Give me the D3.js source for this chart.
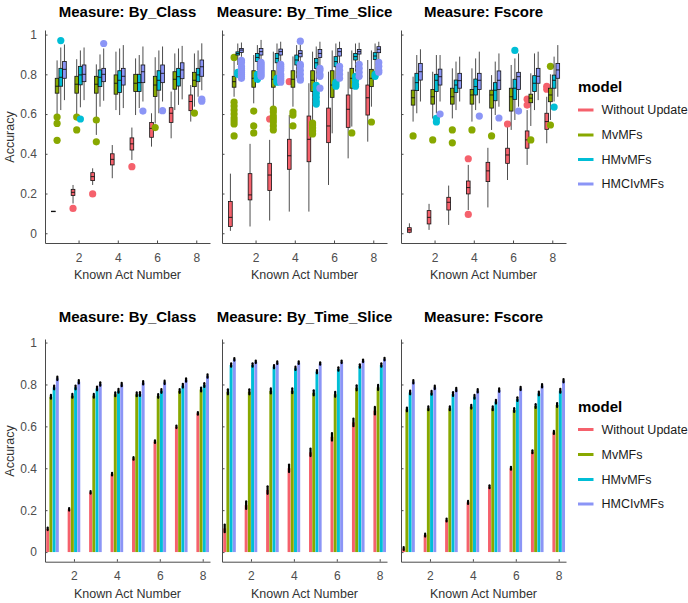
<!DOCTYPE html>
<html>
<head>
<meta charset="utf-8">
<script src="https://cdn.jsdelivr.net/npm/d3@7"></script>
<style>
  body { margin: 0; background: #fff; }
  text { font-family: "Liberation Sans", Arial, sans-serif; }
</style>
</head>
<body>
<div id="chart"></div>
<script>
const models = ['Without Update', 'MvMFs', 'HMvMFs', 'HMCIvMFs'];
const colors = ['#F5616C', '#88A800', '#00BED6', '#8B95F6'];
const measures = ['By_Class', 'By_Time_Slice', 'Fscore'];
const acts = [1, 2, 3, 4, 5, 6, 7, 8];
const xTicks = [2, 4, 6, 8];
const yTicks = [0, 0.2, 0.4, 0.6, 0.8, 1];

// box stats per act: [lower whisker, q1, median, q3, upper whisker]
const boxClassWithout = [[0.108,0.109,0.11,0.111,0.112],[0.15,0.19,0.206,0.221,0.243],[0.243,0.265,0.285,0.305,0.327],[0.277,0.344,0.372,0.40,0.444],[0.369,0.419,0.45,0.48,0.532],[0.436,0.483,0.528,0.558,0.604],[0.478,0.558,0.604,0.632,0.713],[0.562,0.617,0.663,0.696,0.746]];
const boxClassMvMFs = [[0.60,0.705,0.74,0.78,0.87],[0.60,0.705,0.75,0.79,0.876],[0.495,0.705,0.75,0.79,0.85],[0.62,0.70,0.755,0.797,0.914],[0.595,0.713,0.755,0.80,0.88],[0.553,0.688,0.746,0.79,0.886],[0.62,0.725,0.775,0.813,0.905],[0.637,0.738,0.77,0.81,0.905]];
const boxClassHMvMFs = [[0.62,0.74,0.785,0.83,0.935],[0.634,0.747,0.797,0.84,0.92],[0.637,0.738,0.785,0.822,0.90],[0.595,0.708,0.77,0.818,0.93],[0.63,0.713,0.758,0.80,0.897],[0.604,0.72,0.77,0.818,0.92],[0.646,0.741,0.788,0.83,0.93],[0.687,0.763,0.797,0.83,0.92]];
const boxClassHMCIvMFs = [[0.67,0.78,0.825,0.864,0.95],[0.67,0.763,0.80,0.847,0.935],[0.667,0.763,0.80,0.83,0.93],[0.63,0.746,0.79,0.83,0.947],[0.663,0.758,0.813,0.847,0.94],[0.663,0.758,0.805,0.847,0.94],[0.674,0.778,0.822,0.858,0.943],[0.72,0.79,0.838,0.872,0.956]];

const boxTimeWithout = [[0.012,0.034,0.08,0.16,0.30],[0.034,0.168,0.193,0.30,0.45],[0.064,0.215,0.293,0.352,0.47],[0.109,0.322,0.39,0.473,0.595],[0.109,0.36,0.473,0.59,0.755],[0.243,0.456,0.54,0.63,0.813],[0.377,0.533,0.624,0.696,0.813],[0.461,0.595,0.682,0.746,0.872]];
const boxTimeMvMFs = [[0.687,0.735,0.763,0.79,0.87],[0.654,0.735,0.78,0.818,0.897],[0.57,0.735,0.775,0.818,0.914],[0.637,0.735,0.775,0.818,0.89],[0.57,0.713,0.77,0.818,0.914],[0.503,0.684,0.746,0.818,0.92],[0.537,0.73,0.78,0.83,0.92],[0.637,0.738,0.78,0.825,0.92]];
const boxTimeHMvMFs = [[0.847,0.897,0.905,0.913,0.955],[0.82,0.864,0.885,0.905,0.947],[0.788,0.858,0.88,0.905,0.955],[0.78,0.847,0.872,0.897,0.947],[0.763,0.83,0.858,0.88,0.94],[0.77,0.838,0.864,0.889,0.955],[0.813,0.872,0.889,0.905,0.955],[0.813,0.875,0.892,0.909,0.955]];
const boxTimeHMCIvMFs = [[0.888,0.91,0.922,0.93,0.96],[0.864,0.897,0.914,0.93,0.973],[0.855,0.897,0.914,0.927,0.964],[0.855,0.888,0.905,0.919,0.95],[0.838,0.885,0.905,0.925,0.964],[0.847,0.892,0.914,0.93,0.964],[0.864,0.902,0.914,0.925,0.959],[0.872,0.909,0.926,0.939,0.964]];

const boxFscoreWithout = [[0.0,0.005,0.017,0.028,0.05],[0.017,0.047,0.08,0.114,0.148],[0.042,0.117,0.156,0.181,0.24],[0.117,0.198,0.23,0.263,0.344],[0.13,0.26,0.314,0.357,0.43],[0.268,0.352,0.394,0.428,0.537],[0.344,0.428,0.47,0.515,0.62],[0.453,0.523,0.562,0.604,0.687]];
const boxFscoreMvMFs = [[0.562,0.645,0.682,0.72,0.788],[0.578,0.65,0.687,0.724,0.813],[0.578,0.65,0.687,0.73,0.83],[0.562,0.65,0.696,0.724,0.83],[0.52,0.63,0.696,0.72,0.796],[0.52,0.615,0.687,0.73,0.847],[0.54,0.657,0.68,0.70,0.805],[0.57,0.662,0.696,0.73,0.80]];
const boxFscoreHMvMFs = [[0.604,0.718,0.758,0.805,0.897],[0.604,0.713,0.77,0.80,0.897],[0.62,0.708,0.746,0.771,0.864],[0.62,0.696,0.738,0.776,0.88],[0.595,0.667,0.72,0.758,0.864],[0.57,0.674,0.73,0.775,0.88],[0.62,0.713,0.755,0.793,0.905],[0.663,0.73,0.77,0.796,0.889]];
const boxFscoreHMCIvMFs = [[0.663,0.771,0.813,0.855,0.926],[0.663,0.746,0.788,0.826,0.897],[0.663,0.73,0.768,0.805,0.889],[0.654,0.724,0.77,0.805,0.914],[0.637,0.724,0.77,0.817,0.905],[0.637,0.724,0.788,0.81,0.905],[0.67,0.755,0.79,0.83,0.914],[0.687,0.78,0.822,0.855,0.947]];

// outliers: [act, value]
const outClassWithout = [[2,0.125],[3,0.198],[5,0.335]];
const outClassMvMFs = [[1,0.585],[1,0.553],[1,0.468],[2,0.585],[2,0.52],[3,0.57],[3,0.46],[6,0.532],[8,0.605]];
const outClassHMvMFs = [[1,0.97],[2,0.575]];
const outClassHMCIvMFs = [[3,0.955],[5,0.615],[6,0.617],[8,0.675],[8,0.665]];

const outTimeWithout = [[3,0.575],[4,0.763]];
const outTimeMvMFs = [[1,0.885],[1,0.66],[1,0.64],[1,0.62],[1,0.60],[1,0.58],[1,0.565],[1,0.55],[1,0.49],[2,0.615],[2,0.54],[2,0.505],[3,0.625],[3,0.61],[3,0.59],[3,0.575],[3,0.56],[3,0.54],[3,0.52],[4,0.61],[4,0.595],[4,0.54],[5,0.555],[5,0.545],[5,0.53],[5,0.515],[5,0.50],[7,0.505],[8,0.56]];
const outTimeHMvMFs = [[1,0.81],[1,0.80],[2,0.80],[2,0.79],[2,0.78],[2,0.775],[3,0.78],[3,0.77],[3,0.76],[5,0.745],[5,0.725],[5,0.705],[5,0.685],[5,0.665],[5,0.65],[6,0.76],[6,0.75],[6,0.74],[7,0.79],[7,0.77],[7,0.75],[7,0.74],[8,0.80],[8,0.79]];
const outTimeHMCIvMFs = [[1,0.87],[1,0.86],[1,0.84],[1,0.83],[1,0.82],[1,0.81],[1,0.80],[1,0.79],[1,0.78],[2,0.86],[2,0.85],[2,0.84],[2,0.83],[2,0.82],[2,0.81],[2,0.80],[2,0.79],[3,0.85],[3,0.84],[3,0.83],[3,0.82],[3,0.80],[3,0.79],[3,0.78],[3,0.77],[3,0.76],[4,0.967],[4,0.85],[4,0.84],[4,0.82],[4,0.80],[4,0.78],[4,0.77],[5,0.83],[5,0.82],[5,0.80],[5,0.79],[5,0.73],[6,0.84],[6,0.82],[6,0.80],[6,0.78],[7,0.85],[7,0.83],[7,0.81],[7,0.79],[8,0.86],[8,0.84],[8,0.82],[8,0.81]];

const outFscoreWithout = [[4,0.375],[4,0.095],[6,0.55],[7,0.675],[7,0.645],[8,0.74],[8,0.725]];
const outFscoreMvMFs = [[1,0.49],[2,0.47],[3,0.52],[3,0.455],[4,0.52],[5,0.49],[7,0.47],[8,0.84],[8,0.545]];
const outFscoreHMvMFs = [[2,0.578],[2,0.56],[6,0.92],[8,0.635]];
const outFscoreHMCIvMFs = [[2,0.60],[4,0.59],[5,0.58],[6,0.615]];

// mean accuracy per act (bottom row)
const meanClassWithout = [0.111,0.204,0.285,0.372,0.447,0.527,0.598,0.662];
const meanClassMvMFs = [0.741,0.746,0.746,0.753,0.753,0.745,0.769,0.776];
const meanClassHMvMFs = [0.786,0.786,0.781,0.77,0.754,0.769,0.794,0.797];
const meanClassHMCIvMFs = [0.829,0.813,0.802,0.80,0.808,0.81,0.821,0.84];
const meanTimeWithout = [0.113,0.224,0.296,0.40,0.476,0.55,0.619,0.675];
const meanTimeMvMFs = [0.765,0.765,0.769,0.77,0.76,0.753,0.784,0.786];
const meanTimeHMvMFs = [0.893,0.893,0.885,0.877,0.861,0.874,0.888,0.893];
const meanTimeHMCIvMFs = [0.92,0.908,0.904,0.904,0.90,0.908,0.913,0.921];
const meanFscoreWithout = [0.017,0.081,0.153,0.237,0.312,0.40,0.479,0.571];
const meanFscoreMvMFs = [0.681,0.686,0.686,0.694,0.686,0.678,0.697,0.702];
const meanFscoreHMvMFs = [0.762,0.76,0.754,0.741,0.718,0.73,0.757,0.77];
const meanFscoreHMCIvMFs = [0.813,0.786,0.776,0.77,0.773,0.781,0.794,0.818];

// half width of error bars, per model
const errClass = [0.006, 0.009, 0.009, 0.008];
const errTime = [0.018, 0.012, 0.008, 0.006];
const errFscore = [0.007, 0.009, 0.009, 0.008];

const boxes = [
  [boxClassWithout, boxClassMvMFs, boxClassHMvMFs, boxClassHMCIvMFs],
  [boxTimeWithout, boxTimeMvMFs, boxTimeHMvMFs, boxTimeHMCIvMFs],
  [boxFscoreWithout, boxFscoreMvMFs, boxFscoreHMvMFs, boxFscoreHMCIvMFs]
];
const outliers = [
  [outClassWithout, outClassMvMFs, outClassHMvMFs, outClassHMCIvMFs],
  [outTimeWithout, outTimeMvMFs, outTimeHMvMFs, outTimeHMCIvMFs],
  [outFscoreWithout, outFscoreMvMFs, outFscoreHMvMFs, outFscoreHMCIvMFs]
];
const means = [
  [meanClassWithout, meanClassMvMFs, meanClassHMvMFs, meanClassHMCIvMFs],
  [meanTimeWithout, meanTimeMvMFs, meanTimeHMvMFs, meanTimeHMCIvMFs],
  [meanFscoreWithout, meanFscoreMvMFs, meanFscoreHMvMFs, meanFscoreHMCIvMFs]
];
const errs = [errClass, errTime, errFscore];

const width = 688;
const height = 603;
const panelLeft = [45, 222, 401];
const panelW = 165;
const AXIS = '#4a4a4a';

const svg = d3.select('#chart').append('svg')
  .attr('width', width)
  .attr('height', height);

function drawAxes(g, x, y, row, p) {
  const bottom = y.range()[0];
  g.append('g')
    .attr('transform', `translate(${x.range()[0]},0)`)
    .call(d3.axisLeft(y).tickValues(yTicks).tickSize(-2.5).tickSizeOuter(0)
      .tickPadding(p == 0 ? 8 : 0).tickFormat(p == 0 ? d3.format('') : ''))
    .call(a => a.selectAll('path,line').attr('stroke', AXIS))
    .call(a => a.selectAll('text').attr('font-size', 12).attr('fill', '#4d4d4d')
      .attr('font-family', '"Liberation Sans", Arial, sans-serif'));

  g.append('g')
    .attr('transform', `translate(0,${bottom})`)
    .call(d3.axisBottom(x).tickValues(xTicks).tickSize(-2.5).tickSizeOuter(0).tickPadding(10))
    .call(a => a.selectAll('path,line').attr('stroke', AXIS))
    .call(a => a.selectAll('text').attr('font-size', 12).attr('fill', '#4d4d4d')
      .attr('font-family', '"Liberation Sans", Arial, sans-serif'));

  const cx = (x.range()[0] + x.range()[1]) / 2;
  g.append('text')
    .attr('x', cx)
    .attr('y', row.titleY)
    .attr('text-anchor', 'middle')
    .attr('font-size', 15)
    .attr('font-weight', 'bold')
    .attr('fill', '#000')
    .text('Measure: ' + measures[p]);

  g.append('text')
    .attr('x', cx)
    .attr('y', row.xTitleY)
    .attr('text-anchor', 'middle')
    .attr('font-size', 12.5)
    .attr('fill', '#333')
    .text('Known Act Number');
}

function drawBoxPanel(p) {
  const row = { titleY: 16.5, xTitleY: 278.5 };
  const g = svg.append('g');
  const x = d3.scaleLinear().domain([0.29, 8.7]).range([panelLeft[p], panelLeft[p] + panelW]);
  const y = d3.scaleLinear().domain([-0.049, 1.023]).range([243, 30]);
  drawAxes(g, x, y, row, p);

  const dodge = 0.75 / models.length;
  const bw = x(dodge) - x(0);

  models.forEach((m, k) => {
    const off = (k - (models.length - 1) / 2) * dodge;
    const stats = boxes[p][k];
    const mg = g.append('g').attr('class', 'model-' + k);

    mg.selectAll('.whisker')
      .data(stats)
      .enter()
      .append('path')
      .attr('class', 'whisker')
      .attr('d', (d, i) => {
        const cx = x(acts[i] + off);
        return `M${cx},${y(d[0])}V${y(d[1])}M${cx},${y(d[3])}V${y(d[4])}`;
      })
      .attr('stroke', '#3a3a3a')
      .attr('stroke-width', 0.9)
      .attr('fill', 'none');

    mg.selectAll('.box')
      .data(stats)
      .enter()
      .append('rect')
      .attr('class', 'box')
      .attr('x', (d, i) => x(acts[i] + off) - bw / 2)
      .attr('y', d => y(d[3]))
      .attr('width', bw)
      .attr('height', d => Math.max(0.5, y(d[1]) - y(d[3])))
      .attr('fill', colors[k])
      .attr('stroke', '#111')
      .attr('stroke-width', 0.8);

    mg.selectAll('.median')
      .data(stats)
      .enter()
      .append('line')
      .attr('class', 'median')
      .attr('x1', (d, i) => x(acts[i] + off) - bw / 2)
      .attr('x2', (d, i) => x(acts[i] + off) + bw / 2)
      .attr('y1', d => y(d[2]))
      .attr('y2', d => y(d[2]))
      .attr('stroke', '#111')
      .attr('stroke-width', 0.9);

    mg.selectAll('.outlier')
      .data(outliers[p][k])
      .enter()
      .append('circle')
      .attr('class', 'outlier')
      .attr('cx', d => x(d[0] + off))
      .attr('cy', d => y(d[1]))
      .attr('r', 3.6)
      .attr('fill', colors[k]);
  });
}

function drawBarPanel(p) {
  const row = { titleY: 322, xTitleY: 597.7 };
  const g = svg.append('g');
  const x = d3.scaleLinear().domain([0.65, 8.34]).range([panelLeft[p], panelLeft[p] + panelW]);
  const y = d3.scaleLinear().domain([-0.046, 1.017]).range([561.7, 339]);
  drawAxes(g, x, y, row, p);

  const step = 0.6 / models.length;
  const bw = (x(step) - x(0)) * 0.92;

  models.forEach((m, k) => {
    const off = (k - (models.length - 1) / 2) * step;
    const vals = means[p][k];
    const e = errs[p][k];

    g.selectAll('.bar-' + k)
      .data(vals)
      .enter()
      .append('rect')
      .attr('class', 'bar-' + k)
      .attr('x', (d, i) => x(acts[i] + off) - bw / 2)
      .attr('y', d => y(d))
      .attr('width', bw)
      .attr('height', d => y(0) - y(d))
      .attr('fill', colors[k]);

    g.selectAll('.err-' + k)
      .data(vals)
      .enter()
      .append('line')
      .attr('class', 'err-' + k)
      .attr('x1', (d, i) => x(acts[i] + off))
      .attr('x2', (d, i) => x(acts[i] + off))
      .attr('y1', d => y(d + e))
      .attr('y2', d => y(d - e))
      .attr('stroke', '#000')
      .attr('stroke-width', 2.2)
      .attr('stroke-linecap', 'round');
  });
}

function drawYTitle(cy) {
  svg.append('text')
    .attr('transform', `translate(14,${cy}) rotate(-90)`)
    .attr('text-anchor', 'middle')
    .attr('font-size', 12.5)
    .attr('fill', '#333')
    .text('Accuracy');
}

function drawLegend(top, keyYs) {
  const lg = svg.append('g');
  lg.append('text')
    .attr('x', 578)
    .attr('y', top)
    .attr('font-size', 15)
    .attr('font-weight', 'bold')
    .attr('fill', '#000')
    .text('model');

  const items = lg.selectAll('.item')
    .data(models)
    .enter()
    .append('g')
    .attr('transform', (d, i) => `translate(0,${keyYs[i]})`);

  items.append('line')
    .attr('x1', 578)
    .attr('x2', 593.5)
    .attr('stroke', (d, i) => colors[i])
    .attr('stroke-width', 3);

  items.append('text')
    .attr('x', 601.5)
    .attr('dy', '0.35em')
    .attr('font-size', 12.5)
    .attr('fill', '#1a1a1a')
    .text(d => d);
}

measures.forEach((m, p) => {
  drawBoxPanel(p);
  drawBarPanel(p);
});
drawYTitle(137);
drawYTitle(451);
drawLegend(92, [110, 135, 159.5, 184]);
drawLegend(412, [429.5, 454.5, 479.5, 504]);
</script>
</body>
</html>
